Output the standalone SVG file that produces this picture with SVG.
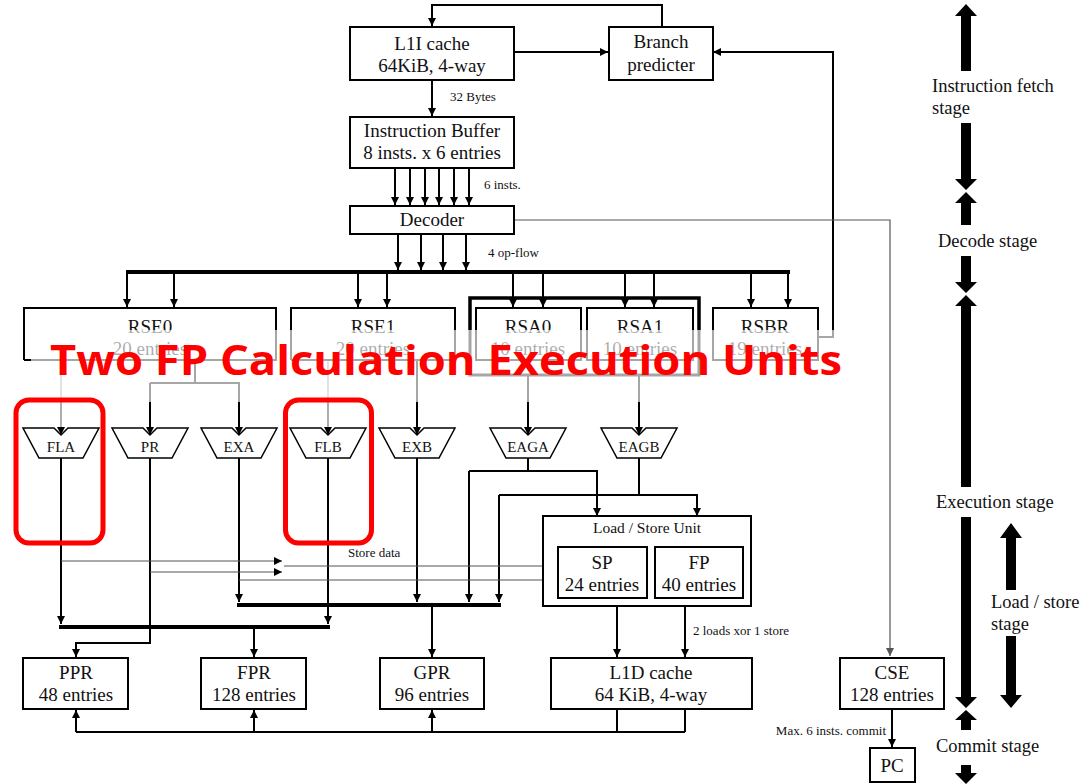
<svg xmlns="http://www.w3.org/2000/svg" width="1090" height="784" viewBox="0 0 1090 784">
<style>
.box{fill:#fff;stroke:#000;stroke-width:2}
text{font-family:'Liberation Serif','DejaVu Serif',serif}
.t{font-size:19px;fill:#111;text-anchor:middle}
.s{font-size:13px;fill:#111}
.u{font-size:15px;fill:#111;text-anchor:middle}
.g{font-size:18.5px;fill:#111}
.c{fill:none;stroke:#000;stroke-width:2}
.thin{fill:none;stroke:#555;stroke-width:1.2}
.bus{fill:none;stroke:#000;stroke-width:4}
.alu{fill:#fff;stroke:#000;stroke-width:1.5}
.big{fill:#000}
.red{fill:none;stroke:#f00;stroke-width:5}
</style>
<defs>
<marker id="a" viewBox="0 0 8 8" refX="8" refY="4" markerWidth="8" markerHeight="8" markerUnits="userSpaceOnUse" orient="auto"><path d="M0,0 L8,4 L0,8 z" fill="#000"/></marker>
<marker id="ag" viewBox="0 0 8 8" refX="8" refY="4" markerWidth="8" markerHeight="8" markerUnits="userSpaceOnUse" orient="auto"><path d="M0,0 L8,4 L0,8 z" fill="#555"/></marker>
</defs>

<g id="connectors">
<path class="c" d="M662,27 V5 H432 V26" marker-end="url(#a)"/>
<path class="c" d="M514,52 H608" marker-end="url(#a)"/>
<path class="c" d="M818,337 H833 V52 H713" marker-end="url(#a)"/>
<path class="c" d="M432,80 V116" marker-end="url(#a)"/>
<path class="c" d="M395,168 V205" marker-end="url(#a)"/>
<path class="c" d="M410,168 V205" marker-end="url(#a)"/>
<path class="c" d="M425,168 V205" marker-end="url(#a)"/>
<path class="c" d="M439,168 V205" marker-end="url(#a)"/>
<path class="c" d="M454,168 V205" marker-end="url(#a)"/>
<path class="c" d="M469,168 V205" marker-end="url(#a)"/>
<path class="thin" d="M514,220 H890 V656" marker-end="url(#ag)"/>
<path class="c" d="M398,234 V270" marker-end="url(#a)"/>
<path class="c" d="M421,234 V270" marker-end="url(#a)"/>
<path class="c" d="M443,234 V270" marker-end="url(#a)"/>
<path class="c" d="M466,234 V270" marker-end="url(#a)"/>
<path class="bus" d="M126,272 H790"/>
<path class="c" d="M127,272 V307" marker-end="url(#a)"/>
<path class="c" d="M174,272 V307" marker-end="url(#a)"/>
<path class="c" d="M358,272 V307" marker-end="url(#a)"/>
<path class="c" d="M387,272 V307" marker-end="url(#a)"/>
<path class="c" d="M513,272 V307" marker-end="url(#a)"/>
<path class="c" d="M543,272 V307" marker-end="url(#a)"/>
<path class="c" d="M625,272 V307" marker-end="url(#a)"/>
<path class="c" d="M654,272 V307" marker-end="url(#a)"/>
<path class="c" d="M751,272 V307" marker-end="url(#a)"/>
<path class="c" d="M788,272 V307" marker-end="url(#a)"/>
<path fill="none" stroke="#000" stroke-width="3.5" d="M470,330 V298 H699 V330"/>
<path fill="none" stroke="#000" stroke-width="3" d="M470,330 V375 H699 V330"/>
<path fill="none" stroke="#777" stroke-width="1.2" d="M61,360 V435" marker-end="url(#a)"/>
<path class="c" d="M195,360 V383 M150,383 H240"/>
<path class="c" d="M150,383 V435" marker-end="url(#a)"/>
<path class="c" d="M239,383 V435" marker-end="url(#a)"/>
<path fill="none" stroke="#777" stroke-width="1.2" d="M328,360 V435" marker-end="url(#a)"/>
<path class="c" d="M417,360 V435" marker-end="url(#a)"/>
<path class="c" d="M528,375 V435" marker-end="url(#a)"/>
<path class="c" d="M639,375 V435" marker-end="url(#a)"/>
<path class="c" d="M61,458 V624" marker-end="url(#a)"/>
<path class="c" d="M328,458 V624" marker-end="url(#a)"/>
<path class="bus" d="M59,627 H330"/>
<path class="c" d="M254,627 V657" marker-end="url(#a)"/>
<path class="c" d="M150,458 V643 H76 V657" marker-end="url(#a)"/>
<path class="c" d="M239,458 V602" marker-end="url(#a)"/>
<path class="c" d="M417,458 V602" marker-end="url(#a)"/>
<path class="c" d="M528,458 V471 H597 V516" marker-end="url(#a)"/>
<path class="c" d="M469,471 H528 M469,471 V602" marker-end="url(#a)"/>
<path class="c" d="M639,458 V495 H697 V516" marker-end="url(#a)"/>
<path class="c" d="M499,495 H639 M499,495 V602" marker-end="url(#a)"/>
<path class="bus" d="M237,605 H501"/>
<path class="c" d="M432,605 V657" marker-end="url(#a)"/>
<path class="thin" stroke="#333" d="M61,561 H282" marker-end="url(#a)"/>
<path class="thin" stroke="#333" d="M150,572 H282" marker-end="url(#a)"/>
<path class="thin" stroke="#333" d="M284,566 H556" marker-end="url(#a)"/>
<path class="thin" stroke="#333" d="M239,580 H556" marker-end="url(#a)"/>
<path class="c" d="M617,606 V657" marker-end="url(#a)"/>
<path class="c" d="M685,606 V657" marker-end="url(#a)"/>
<path class="c" d="M76,732 H685 M617,709 V732 M685,709 V732"/>
<path class="c" d="M76,732 V710" marker-end="url(#a)"/>
<path class="c" d="M254,732 V710" marker-end="url(#a)"/>
<path class="c" d="M432,732 V710" marker-end="url(#a)"/>
<path class="c" d="M892,709 V747" marker-end="url(#a)"/>
</g>

<g id="l1i"><rect class="box" x="350" y="27" width="164" height="53"/><text class="t" x="432" y="50">L1I cache</text><text class="t" x="432" y="72">64KiB, 4-way</text></g>
<g id="branch"><rect class="box" x="609" y="27" width="104" height="53"/><text class="t" x="661" y="48">Branch</text><text class="t" x="661" y="71">predicter</text></g>
<g id="ibuf"><rect class="box" x="350" y="117" width="164" height="51"/><text class="t" x="432" y="137">Instruction Buffer</text><text class="t" x="432" y="159">8 insts. x 6 entries</text></g>
<g id="decoder"><rect class="box" x="350" y="206" width="164" height="28"/><text class="t" x="432" y="226">Decoder</text></g>

<g id="rse0"><path class="c" d="M24,360 V308 H276 V360 H24"/><text class="t" x="150" y="333">RSE0</text><text class="t" x="150" y="355">20 entries</text></g>
<g id="rse1"><path class="c" d="M291,360 V308 H455 V360 H291"/><text class="t" x="373" y="333">RSE1</text><text class="t" x="373" y="355">20 entries</text></g>
<g id="rsa0"><rect class="box" x="476" y="308" width="105" height="52"/><text class="t" x="528" y="333">RSA0</text><text class="t" x="528" y="355">10 entries</text></g>
<g id="rsa1"><rect class="box" x="587" y="308" width="106" height="52"/><text class="t" x="640" y="333">RSA1</text><text class="t" x="640" y="355">10 entries</text></g>
<g id="rsbr"><rect class="box" x="713" y="308" width="105" height="52"/><text class="t" x="765" y="333">RSBR</text><text class="t" x="765" y="355">19 entries</text></g>

<g id="fla"><path class="alu" d="M23,428 H54 L61,435 L68,428 H99 L83,458 H39 Z"/><text class="u" x="61" y="452">FLA</text></g>
<g id="pr"><path class="alu" d="M112,428 H143 L150,435 L157,428 H188 L172,458 H128 Z"/><text class="u" x="150" y="452">PR</text></g>
<g id="exa"><path class="alu" d="M201,428 H232 L239,435 L246,428 H277 L261,458 H217 Z"/><text class="u" x="239" y="452">EXA</text></g>
<g id="flb"><path class="alu" d="M290,428 H321 L328,435 L335,428 H366 L350,458 H306 Z"/><text class="u" x="328" y="452">FLB</text></g>
<g id="exb"><path class="alu" d="M379,428 H410 L417,435 L424,428 H455 L439,458 H395 Z"/><text class="u" x="417" y="452">EXB</text></g>
<g id="eaga"><path class="alu" d="M490,428 H521 L528,435 L535,428 H566 L550,458 H506 Z"/><text class="u" x="528" y="452">EAGA</text></g>
<g id="eagb"><path class="alu" d="M601,428 H632 L639,435 L646,428 H677 L661,458 H617 Z"/><text class="u" x="639" y="452">EAGB</text></g>

<g id="lsu"><rect class="box" x="543" y="516" width="208" height="90"/><text class="u" x="647" y="533" style="font-size:15.5px">Load / Store Unit</text></g>
<g id="sp"><rect class="box" x="558" y="547" width="89" height="51"/><text class="t" x="602" y="569">SP</text><text class="t" x="602" y="591">24 entries</text></g>
<g id="fp"><rect class="box" x="655" y="547" width="88" height="51"/><text class="t" x="699" y="569">FP</text><text class="t" x="699" y="591">40 entries</text></g>

<g id="ppr"><rect class="box" x="23" y="658" width="105" height="51"/><text class="t" x="76" y="679">PPR</text><text class="t" x="76" y="701">48 entries</text></g>
<g id="fpr"><rect class="box" x="201" y="658" width="105" height="51"/><text class="t" x="254" y="679">FPR</text><text class="t" x="254" y="701">128 entries</text></g>
<g id="gpr"><rect class="box" x="380" y="658" width="104" height="51"/><text class="t" x="432" y="679">GPR</text><text class="t" x="432" y="701">96 entries</text></g>
<g id="l1d"><rect class="box" x="551" y="658" width="201" height="51"/><text class="t" x="651" y="679">L1D cache</text><text class="t" x="651" y="701">64 KiB, 4-way</text></g>
<g id="cse"><rect class="box" x="840" y="658" width="104" height="51"/><text class="t" x="892" y="679">CSE</text><text class="t" x="892" y="701">128 entries</text></g>
<g id="pc"><rect class="box" x="870" y="748" width="45" height="34"/><text class="t" x="892" y="772">PC</text></g>

<g id="labels">
<text class="s" x="450" y="101">32 Bytes</text>
<text class="s" x="484" y="189">6 insts.</text>
<text class="s" x="488" y="257">4 op-flow</text>
<text class="s" x="348" y="557">Store data</text>
<text class="s" x="693" y="635">2 loads xor 1 store</text>
<text class="s" x="886" y="735" text-anchor="end">Max. 6 insts. commit</text>
</g>

<g id="stages">
<polygon class="big" points="966,4 977,16 971,16 971,71 961,71 961,16 955,16"/>
<polygon class="big" points="961,123 971,123 971,179 977,179 966,190 955,179 961,179"/>
<polygon class="big" points="966,192 977,203 971,203 971,225 961,225 961,203 955,203"/>
<polygon class="big" points="961,256 971,256 971,282 977,282 966,293 955,282 961,282"/>
<polygon class="big" points="966,295 977,306 971,306 971,487 961,487 961,306 955,306"/>
<polygon class="big" points="961,517 971,517 971,697 977,697 966,708 955,697 961,697"/>
<polygon class="big" points="966,710 977,720 971,720 971,730 961,730 961,720 955,720"/>
<polygon class="big" points="961,765 971,765 971,773 977,773 966,784 955,773 961,773"/>
<polygon class="big" points="1011,523 1022,538 1016,538 1016,590 1006,590 1006,538 1000,538"/>
<polygon class="big" points="1006,636 1016,636 1016,695 1022,695 1011,708 1000,695 1006,695"/>
<text class="g" x="932" y="92">Instruction fetch</text>
<text class="g" x="932" y="114">stage</text>
<text class="g" x="938" y="247">Decode stage</text>
<text class="g" x="936" y="508">Execution stage</text>
<text class="g" x="991" y="608">Load / store</text>
<text class="g" x="991" y="630">stage</text>
<text class="g" x="936" y="752">Commit stage</text>
</g>

<g id="callout">
<rect x="31" y="330" width="815" height="72" fill="#fff" opacity="0.65"/>
<text x="50" y="375" style="font-family:'Open Sans','DejaVu Sans',sans-serif" font-weight="bold" font-size="41" fill="#f00" textLength="792" lengthAdjust="spacingAndGlyphs">Two FP Calculation Execution Units</text>
<rect class="red" x="16" y="400" width="87" height="143" rx="13"/>
<rect class="red" x="285.5" y="400" width="86" height="143" rx="13"/>
</g>
</svg>
